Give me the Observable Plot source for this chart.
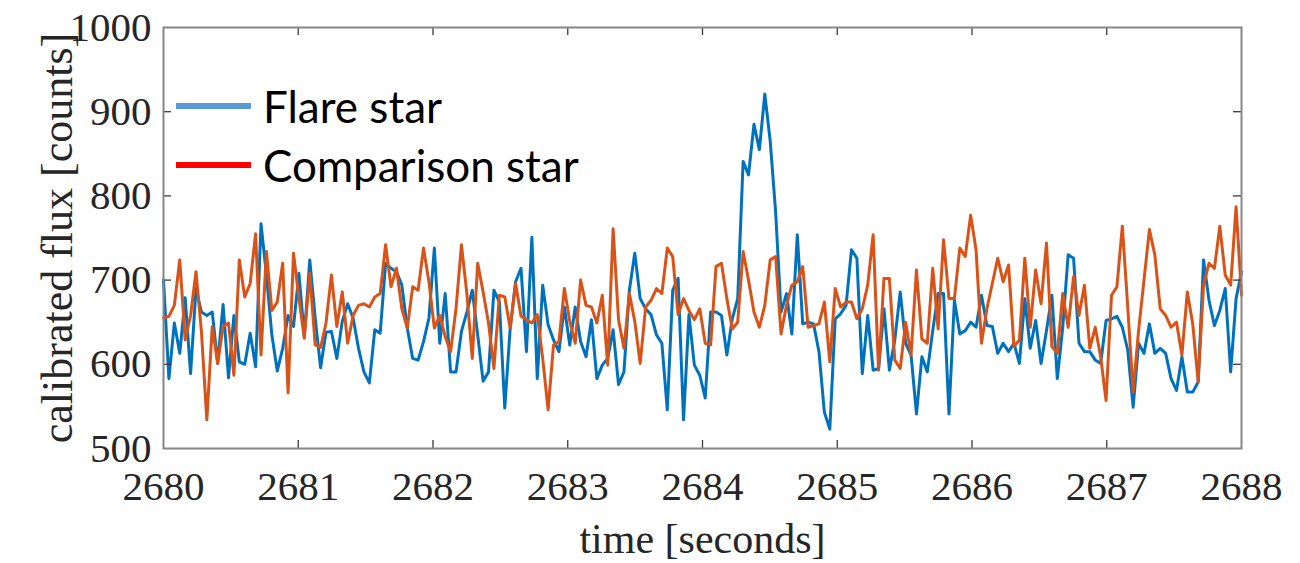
<!DOCTYPE html>
<html>
<head>
<meta charset="utf-8">
<script src="https://cdn.jsdelivr.net/npm/d3@7"></script>
<script src="https://cdn.jsdelivr.net/npm/@observablehq/plot@0.6"></script>
<style>
  body { margin: 0; background: #fff; }
  #wrap { position: relative; width: 1300px; height: 563px; }
  .leg { position: absolute; left: 176px; display: flex; align-items: center;
         font-family: Lato, "Liberation Sans", sans-serif; font-size: 44px; color: #000; line-height: 1; }
  .sw { width: 75px; height: 6px; margin-right: 12px; }
</style>
</head>
<body>
<div id="wrap"></div>
<script>
const timeStart = 2680;
const timeEnd = 2688;

const seriesNames = ["Flare star", "Comparison star"];
const seriesColors = ["#0072BD", "#D95319"];
const legendColors = ["#5B9BD5", "#FF0000"];

const flareStar = [
  700,583,649,613,679,589,690,662,658,662,601,671,584,658,603,600,637,597,767,706,635,592,619,658,645,708,633,724,655,596,638,639,607,651,
  672,655,619,591,578,641,637,720,714,710,694,643,607,605,627,655,738,625,684,591,591,639,662,688,635,580,591,688,674,548,643,698,714,615,
  751,583,694,647,629,615,668,623,668,627,609,653,583,599,607,641,576,591,688,732,678,666,659,635,625,546,688,702,534,659,599,587,560,662,
  662,658,611,654,678,841,825,885,855,921,865,781,662,684,636,754,648,650,648,615,543,523,654,660,670,736,726,589,658,593,595,666,593,
  629,686,625,611,541,609,591,640,684,684,541,676,636,640,650,644,682,646,645,613,625,615,625,601,678,619,652,601,640,682,583,644,730,726,
  625,615,615,605,601,652,654,657,644,617,549,625,613,648,613,619,613,583,569,609,567,567,579,724,676,646,664,690,591,678,710
];

const comparisonStar = [
  655,657,670,724,629,658,710,639,534,645,601,645,649,587,724,680,696,755,611,734,664,674,720,566,732,678,631,708,623,620,649,706,645,686,
  625,658,670,672,668,680,684,742,692,714,666,643,692,688,738,698,643,658,633,615,666,742,684,607,720,686,649,595,682,680,643,696,657,653,
  649,659,607,546,623,627,690,651,625,700,670,668,649,682,599,761,653,619,684,651,601,668,676,690,684,738,728,659,678,664,653,666,625,623,
  716,720,678,642,650,734,700,662,644,670,724,728,636,670,694,698,716,644,646,648,674,603,690,668,674,674,654,666,694,754,593,702,702,
  605,595,650,611,712,630,625,714,642,748,678,678,738,728,777,736,625,666,696,726,698,718,621,629,726,644,712,672,744,621,613,684,644,704,
  658,694,619,644,609,557,682,692,764,668,567,640,700,760,730,666,658,644,650,611,686,648,579,694,720,714,764,706,694,787,682
];

const xTicks = [2680, 2681, 2682, 2683, 2684, 2685, 2686, 2687, 2688];
const yTicks = [500, 600, 700, 800, 900, 1000];
const xLabel = "time [seconds]";
const yLabel = "calibrated flux [counts]";

function toRows(values) {
  const step = (timeEnd - timeStart) / (values.length - 1);
  return values.map((v, i) => ({ t: timeStart + i * step, v }));
}
const flareRows = toRows(flareStar);
const compRows = toRows(comparisonStar);

const W = 1300, H = 563;
const mL = 163, mR = 59, mT = 27, mB = 115;
const plotH = H - mT - mB;
const plotW = W - mL - mR;
const tickLen = 8;
const axisFont = "'Liberation Serif', 'Times New Roman', serif";
const textColor = "#262626";

const chart = Plot.plot({
  width: W,
  height: H,
  marginLeft: mL,
  marginRight: mR,
  marginTop: mT,
  marginBottom: mB,
  style: { fontFamily: axisFont, background: "#fff", overflow: "visible" },
  x: { domain: [timeStart, timeEnd] },
  y: { domain: [500, 1000] },
  marks: [
    Plot.line(flareRows, { x: "t", y: "v", stroke: seriesColors[0], strokeWidth: 3 }),
    Plot.line(compRows, { x: "t", y: "v", stroke: seriesColors[1], strokeWidth: 3 }),
    // inward ticks (MATLAB style) on all four sides
    Plot.ruleX(xTicks.slice(1, -1), { stroke: "#3a3a3a", strokeWidth: 1.3, insetTop: plotH - tickLen }),
    Plot.ruleX(xTicks.slice(1, -1), { stroke: "#3a3a3a", strokeWidth: 1.3, insetBottom: plotH - tickLen }),
    Plot.ruleY(yTicks.slice(1, -1), { stroke: "#3a3a3a", strokeWidth: 1.3, insetRight: plotW - tickLen }),
    Plot.ruleY(yTicks.slice(1, -1), { stroke: "#3a3a3a", strokeWidth: 1.3, insetLeft: plotW - tickLen }),
    Plot.frame({ stroke: "#868686", strokeWidth: 2 }),
    Plot.axisX({ ticks: xTicks, tickSize: 0, tickPadding: 22, tickFormat: d => String(d),
                 fontSize: 41, fill: textColor, label: null }),
    Plot.axisY({ ticks: yTicks, tickSize: 0, tickPadding: 12, tickFormat: d => String(d),
                 fontSize: 41, fill: textColor, label: null }),
    Plot.text([xLabel], { frameAnchor: "bottom", dy: 91, fontSize: 42, fill: textColor,
                          textAnchor: "middle", lineAnchor: "middle" }),
    Plot.text([yLabel], { frameAnchor: "left", dx: -106, rotate: -90, fontSize: 44, fill: textColor,
                          textAnchor: "middle", lineAnchor: "middle" })
  ]
});

const wrap = document.getElementById("wrap");
wrap.appendChild(chart);

const legendTops = [106, 165];
seriesNames.forEach((name, i) => {
  const row = document.createElement("div");
  row.className = "leg";
  row.style.top = (legendTops[i] - 22) + "px";
  row.style.height = "44px";
  const sw = document.createElement("span");
  sw.className = "sw";
  sw.style.background = legendColors[i];
  const label = document.createElement("span");
  label.textContent = name;
  row.appendChild(sw);
  row.appendChild(label);
  wrap.appendChild(row);
});
</script>
</body>
</html>
